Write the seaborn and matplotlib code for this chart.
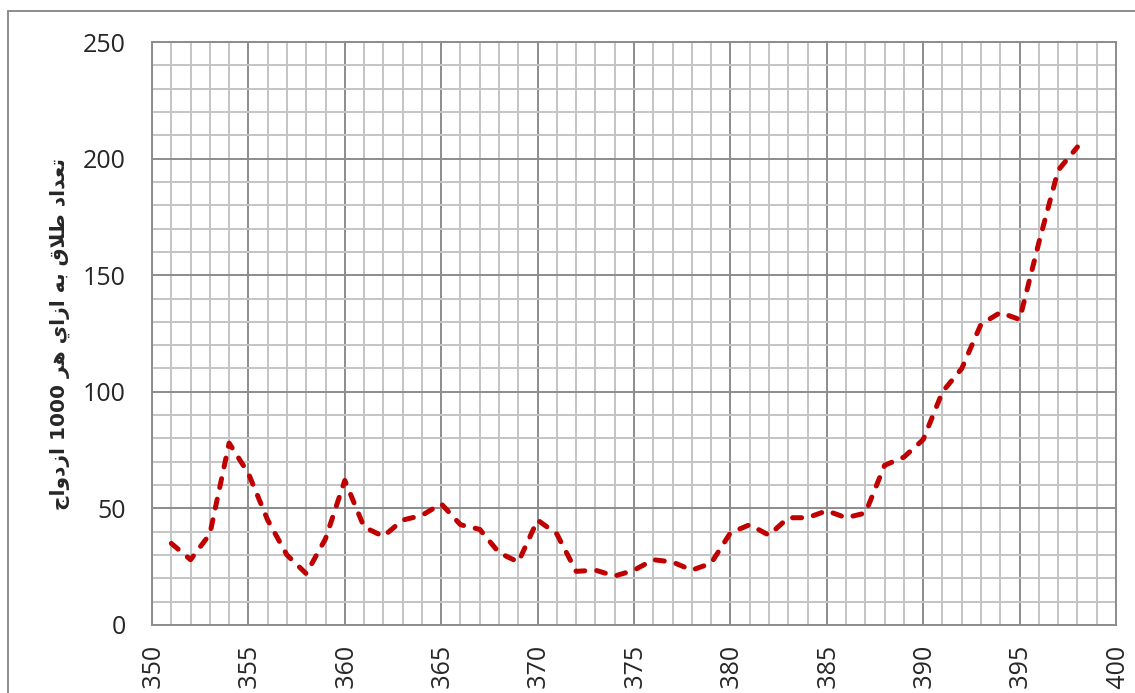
import numpy as np
import matplotlib
matplotlib.use("Agg")
import matplotlib.pyplot as plt
import seaborn as sns
from matplotlib.lines import Line2D
from matplotlib.ticker import MultipleLocator

# years 1351..1398 and divorces per 1000 marriages
years = list(range(1351, 1399))
rate = [35, 28, 39, 78, 65, 45, 30, 22, 37, 62,
        42, 38, 45, 47, 52, 43, 41, 31, 27, 45,
        39, 23, 23.5, 21, 23.5, 28, 27, 23.5, 26.5, 39.5,
        43, 38.5, 46, 46, 49, 46, 48, 68.5, 72, 79.5,
        100, 110, 129, 134, 131, 164, 195, 205]
xticks = list(range(1350, 1401, 5))
yticks = [0, 50, 100, 150, 200, 250]

# "تعداد طلاق به ازاي هر 1000 ازدواج" in shaped, visual (left-to-right) order
ylabel = ("\uFE9D\uFE8D\uFEED\uFEA9\uFEAF\uFE8D 1000 \uFEAE\uFEEB "
          "\uFEF1\uFE8D\uFEAF\uFE8D \uFEEA\uFE91 \uFED5\uFEFC\uFEC3 "
          "\uFEA9\uFE8D\uFEAA\uFECC\uFE97")

sns.set_style("white")
plt.rcParams['font.family'] = ['Open Sans', 'DejaVu Sans']

fig = plt.figure(figsize=(11.35, 6.93), dpi=100)
ax = fig.add_axes([152 / 1135, 68 / 693, 964 / 1135, 583 / 693])

sns.lineplot(x=years, y=rate, ax=ax, color="#C00000", linewidth=3.6,
             linestyle=(0, (1.8, 2.4)), dash_capstyle="round")

ax.set_xlim(1350, 1400)
ax.set_ylim(0, 250)
ax.set_xticks(xticks)
ax.set_yticks(yticks)
ax.xaxis.set_minor_locator(MultipleLocator(1))
ax.yaxis.set_minor_locator(MultipleLocator(10))
ax.set_axisbelow(True)
ax.grid(which="minor", color="#c4c4c4", linewidth=1.4)
ax.grid(which="major", color="#8c8c8c", linewidth=1.4)
ax.tick_params(which="major", length=6, width=1.4, color="#8c8c8c",
               labelsize=18)
ax.tick_params(axis="y", pad=13)
ax.tick_params(axis="x", pad=7, labelrotation=90)
ax.tick_params(which="minor", length=0)
for s in ax.spines.values():
    s.set_color("#8c8c8c")
    s.set_linewidth(1.4)

ax.set_xlabel("")
ax.set_ylabel(ylabel, fontsize=14.5, fontweight="bold", family=["DejaVu Sans"])
ax.yaxis.set_label_coords(-0.085, 0.5)

# outer chart border (top and left edges visible)
fig.add_artist(Line2D([8 / 1135, 8 / 1135], [-0.05, 1 - 11 / 693],
                      transform=fig.transFigure, color="#8c8c8c", lw=1.4))
fig.add_artist(Line2D([8 / 1135, 1.05], [1 - 11 / 693, 1 - 11 / 693],
                      transform=fig.transFigure, color="#8c8c8c", lw=1.4))

fig.savefig("out.png", dpi=100)
